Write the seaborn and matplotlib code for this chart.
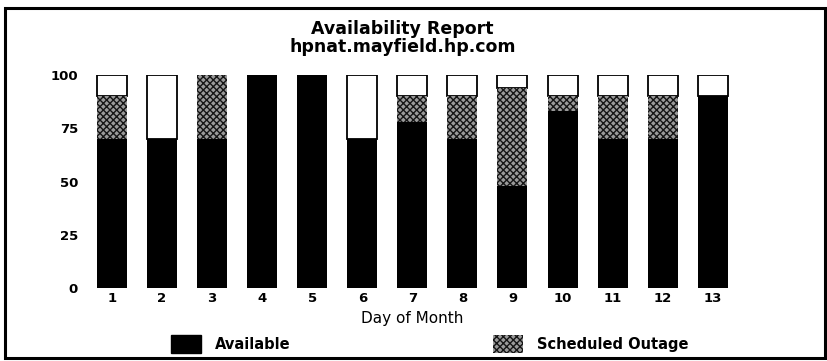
import numpy as np
import pandas as pd
import seaborn as sns
import matplotlib.pyplot as plt
from matplotlib.patches import Patch, Rectangle

days = [str(d) for d in range(1, 14)]
available = [70, 70, 70, 100, 100, 70, 78, 70, 48, 83, 70, 70, 90]
scheduled = [20, 0, 30, 0, 0, 0, 12, 20, 46, 7, 20, 20, 0]
total = [100] * 13

sns.set_theme(style="white")
plt.rcParams["font.family"] = ["DejaVu Sans"]
plt.rcParams.update({"text.color": "black", "axes.labelcolor": "black",
                     "xtick.color": "black", "ytick.color": "black"})

df = pd.DataFrame({"day": days, "available": available, "scheduled": scheduled, "total": total})
df["up_sched"] = df["available"] + df["scheduled"]
df["rest"] = df["total"] - df["up_sched"]

fig = plt.figure(figsize=(8.28, 3.61), dpi=100)
ax = fig.add_axes([0.105, 0.2022, 0.786, 0.59])

# white remainder on top, outlined
sns.barplot(data=df, x="day", y="rest", bottom=df["up_sched"].values, color="white",
            edgecolor="black", linewidth=1.3, width=0.6, ax=ax, saturation=1)
# scheduled outage (dithered grey)
sns.barplot(data=df, x="day", y="scheduled", bottom=df["available"].values, color="#9a9a9a",
            edgecolor="#151515", hatch="xxxxx", linewidth=0, width=0.6, ax=ax, saturation=1)
# available
sns.barplot(data=df, x="day", y="available", color="black", linewidth=0, width=0.6,
            ax=ax, saturation=1)

ax.set_ylim(0, 100)
ax.set_xlim(-0.5, 12.5)
ax.set_yticks([0, 25, 50, 75, 100])
ax.tick_params(axis="y", length=0, pad=6.5)
ax.tick_params(axis="x", length=0, pad=3)
for lbl in ax.get_xticklabels() + ax.get_yticklabels():
    lbl.set_fontweight("bold")
    lbl.set_fontsize(9.5)
ax.set_ylabel("")
ax.set_xlabel("Day of Month", fontsize=11, labelpad=4)
sns.despine(ax=ax, left=True, bottom=True)

fig.text(0.486, 0.895, "Availability Report\nhpnat.mayfield.hp.com", ha="center", va="center",
         fontsize=12.5, fontweight="bold", linespacing=0.95)

handles = [Patch(facecolor="black", edgecolor="black"),
           Patch(facecolor="#9a9a9a", edgecolor="#151515", hatch="xxxxx", linewidth=0)]
fig.legend(handles, ["Available", "Scheduled Outage"], loc="center left",
           bbox_to_anchor=(0.198, 0.047), borderpad=0,
           ncol=2, frameon=False, handlelength=2.05, handleheight=1.44, handletextpad=0.96,
           columnspacing=13.9, prop={"weight": "bold", "size": 10.5})

fig.patches.append(Rectangle((0.006, 0.008), 0.99, 0.97, transform=fig.transFigure,
                             fill=False, edgecolor="black", linewidth=2.2))

fig.savefig("out.png", dpi=100)
